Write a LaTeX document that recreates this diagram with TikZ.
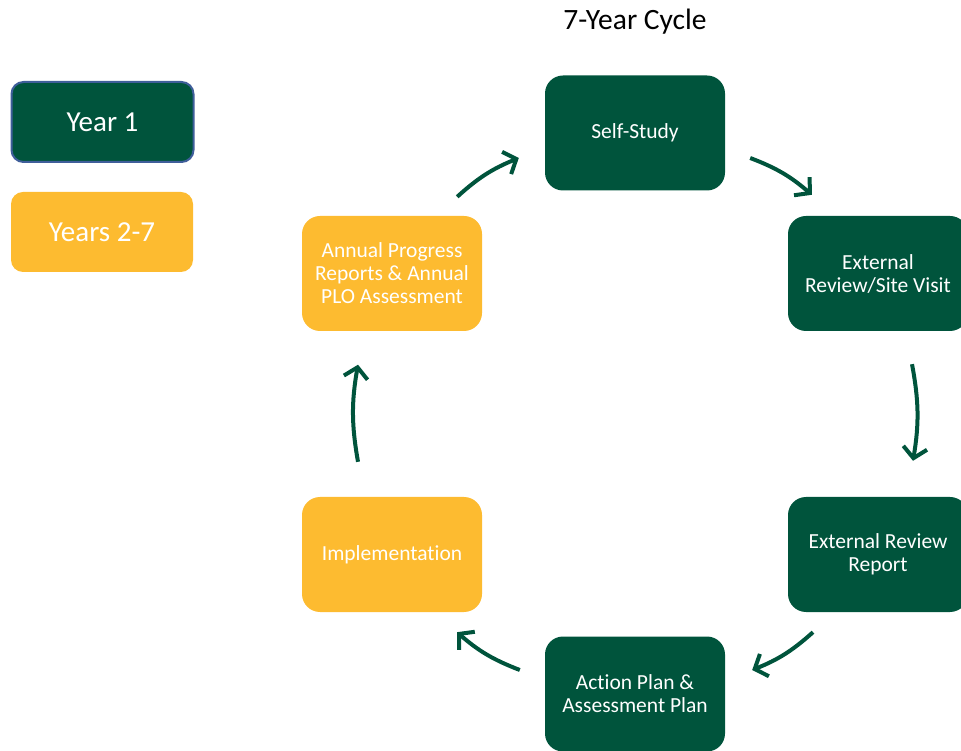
\documentclass[tikz,border=0pt]{standalone}
\usepackage{fontspec}
\setmainfont{Carlito}[Ligatures=NoCommon]
\usetikzlibrary{arrows.meta}
\definecolor{cyclegreen}{HTML}{00543C}
\definecolor{cycleyellow}{HTML}{FDBB30}
\definecolor{legendblue}{HTML}{3F5E9A}

\begin{document}
\begin{tikzpicture}[
    x=1pt, y=1pt,
    stage/.style={fill=cyclegreen, rounded corners=18pt, text=white, minimum width=180pt, minimum height=115pt, inner sep=0pt, align=center, font=\fontsize{21.5}{23}\selectfont},
    later/.style={stage, fill=cycleyellow},
    key/.style={rounded corners=12pt, text=white, minimum width=182pt, minimum height=80pt, inner sep=0pt, font=\fontsize{29}{32}\selectfont},
    flow/.style={->, draw=cyclegreen, line width=4pt},
    >={Straight Barb[length=10.5pt,width=24pt]}
  ]
  \clip (0,0) rectangle (961,750);
  \node[font=\fontsize{29.5}{32}\selectfont] (title) at (635,728) {7-Year Cycle};

  % legend
  \node[key, fill=cyclegreen, draw=legendblue, line width=2pt] (yearone) at (102.5,628) {Year 1};
  \node[key, fill=cycleyellow] (yearsrest) at (102,518) {Years 2-7};

  % the cycle
  \node[stage] (self) at (635,617) {Self-Study};
  \node[stage] (ext) at (878,476.5) {External\\Review/Site Visit};
  \node[stage] (err) at (878,195.5) {External Review\\Report};
  \node[stage] (act) at (635,56) {Action Plan \&\\Assessment Plan};
  \node[later] (impl) at (392,195.5) {Implementation};
  \node[later] (ann) at (392,476.5) {Annual Progress\\Reports \& Annual\\PLO Assessment};

  \draw[flow] ([shift={(-25,19)}]ann.north east) to[bend left=10] ([shift={(-26,-25)}]self.west);
  \draw[flow] ([shift={(25,-25)}]self.east) to[bend left=10] ([shift={(24,21)}]ext.north west);
  \draw[flow] ([shift={(34,-33)}]ext.south) to[bend left=10] ([shift={(35,36)}]err.north);
  \draw[flow] ([shift={(-65,-20)}]err.south) to[bend left=10] ([shift={(27,24)}]act.east);
  \draw[flow] ([shift={(-25,24)}]act.west) to[bend left=10] ([shift={(65,-20)}]impl.south);
  \draw[flow] ([shift={(-34,35)}]impl.north) to[bend left=10] ([shift={(-34,-33.5)}]ann.south);
\end{tikzpicture}
\end{document}
